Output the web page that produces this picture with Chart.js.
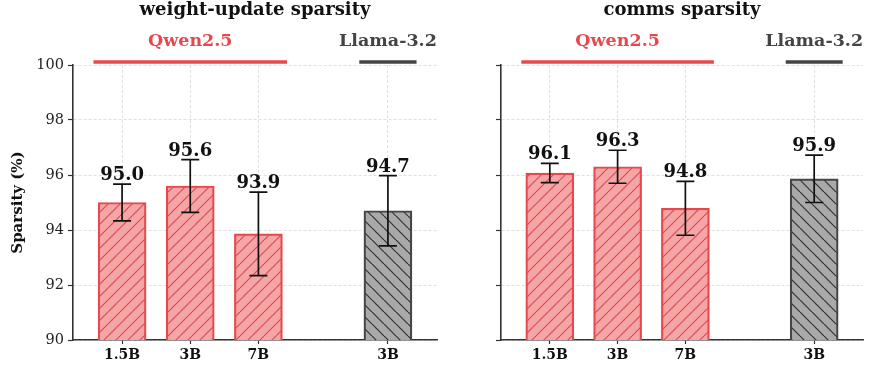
<!DOCTYPE html>
<html>
<head>
<meta charset="utf-8">
<script src="https://cdn.jsdelivr.net/npm/chart.js@4.4.1/dist/chart.umd.min.js"></script>
<style>
  html, body { margin: 0; padding: 0; background: #fff; }
  #wrap { position: relative; width: 869px; height: 370px; }
  .panel { position: absolute; top: 0; height: 370px; }
</style>
</head>
<body>
<div id="wrap">
  <div class="panel" style="left:0;width:440px"><canvas id="weightChart" width="440" height="370"></canvas></div>
  <div class="panel" style="left:440px;width:429px"><canvas id="commsChart" width="429" height="370"></canvas></div>
</div>
<script>
// chart data
const categories = ["1.5B", "3B", "7B", "3B"];
const positions = [0, 1, 2, 3.9];
const families = ["Qwen2.5", "Qwen2.5", "Qwen2.5", "Llama-3.2"];
const weightMeans = [95.0, 95.6, 93.86, 94.7];
const weightErrs = [0.67, 0.96, 1.52, 1.28];
const commsMeans = [96.07, 96.3, 94.79, 95.86];
const commsErrs = [0.35, 0.6, 0.98, 0.86];
const yTicks = [90, 92, 94, 96, 98, 100];
const groupNames = ["Qwen2.5", "Llama-3.2"];
const groupSpans = [[0, 2], [3.9, 3.9]];

const FONT = "'DejaVu Serif', serif";
const RED = "#e8474c";
const RED_FILL = "#f4a6a7";
const GRAY = "#444444";
const GRAY_FILL = "#a9a9a9";

// build a hatch pattern ("/" or "\") on a small tile
function makeHatch(bg, fg, forward) {
  const s = 12;
  const c = document.createElement("canvas");
  c.width = s; c.height = s;
  const g = c.getContext("2d");
  g.fillStyle = bg;
  g.fillRect(0, 0, s, s);
  g.strokeStyle = fg;
  g.lineWidth = 1.2;
  for (const x0 of [-s, 0, s]) {
    g.beginPath();
    if (forward) { g.moveTo(x0, s); g.lineTo(x0 + s, 0); }
    else { g.moveTo(x0, 0); g.lineTo(x0 + s, s); }
    g.stroke();
  }
  return g.createPattern(c, "repeat");
}

const redHatch = makeHatch(RED_FILL, RED, true);
const grayHatch = makeHatch(GRAY_FILL, "#333333", false);

const familyColor = (f) => (f === "Qwen2.5" ? RED : GRAY);

// error bars, value labels, titles and group markers
const decorPlugin = {
  id: "decor",
  afterDatasetsDraw(chart, args, opts) {
    const ctx = chart.ctx;
    const x = chart.scales.x, y = chart.scales.y;
    const area = chart.chartArea;
    ctx.save();
    opts.means.forEach((m, i) => {
      const px = x.getPixelForValue(positions[i]);
      const top = y.getPixelForValue(m + opts.errs[i]);
      const bot = y.getPixelForValue(m - opts.errs[i]);
      ctx.strokeStyle = "#111";
      ctx.lineWidth = 1.7;
      ctx.beginPath();
      ctx.moveTo(px, top); ctx.lineTo(px, bot);
      ctx.moveTo(px - 9, top); ctx.lineTo(px + 9, top);
      ctx.moveTo(px - 9, bot); ctx.lineTo(px + 9, bot);
      ctx.stroke();
      ctx.fillStyle = "#111";
      ctx.font = "bold 18px " + FONT;
      ctx.textAlign = "center";
      ctx.textBaseline = "alphabetic";
      ctx.fillText(m.toFixed(1), px, top - 4);
    });

    // panel title
    ctx.fillStyle = "#111";
    ctx.font = "bold 18px " + FONT;
    ctx.textAlign = "center";
    ctx.fillText(opts.title, (area.left + area.right) / 2, 15);

    // model family markers
    groupNames.forEach((name, i) => {
      const col = familyColor(name);
      const x0 = x.getPixelForValue(groupSpans[i][0] - 0.42);
      const x1 = x.getPixelForValue(groupSpans[i][1] + 0.42);
      ctx.strokeStyle = col;
      ctx.lineWidth = 3.3;
      ctx.beginPath();
      ctx.moveTo(x0, 62); ctx.lineTo(x1, 62);
      ctx.stroke();
      ctx.fillStyle = col;
      ctx.font = "bold 17.5px " + FONT;
      ctx.fillText(name, (x0 + x1) / 2, 46);
    });
    ctx.restore();
  }
};

function makeChart(id, means, errs, title, yWidth, padRight, showY) {
  const ctx = document.getElementById(id).getContext("2d");
  return new Chart(ctx, {
    type: "bar",
    data: {
      datasets: [{
        data: positions.map((p, i) => ({ x: p, y: means[i] })),
        backgroundColor: families.map((f) => (f === "Qwen2.5" ? redHatch : grayHatch)),
        borderColor: families.map(familyColor),
        borderWidth: 2.2,
        borderSkipped: false,
        barThickness: 48
      }]
    },
    options: {
      responsive: false,
      animation: false,
      layout: { padding: { top: 65, right: padRight, left: 0, bottom: 0 } },
      plugins: {
        legend: { display: false },
        tooltip: { enabled: false },
        decor: { means: means, errs: errs, title: title }
      },
      scales: {
        x: {
          type: "linear",
          offset: false,
          min: -0.72,
          max: 4.62,
          afterBuildTicks: (scale) => { scale.ticks = positions.map((v) => ({ value: v })); },
          afterFit: (scale) => { scale.height = 30; },
          ticks: {
            autoSkip: false,
            maxRotation: 0,
            padding: 3,
            color: "#111",
            font: { family: FONT, size: 14, weight: "bold" },
            callback: (v, i) => categories[i]
          },
          grid: {
            offset: false,
            color: "#dcdcdc",
            lineWidth: 0.9,
            tickLength: 4,
            tickColor: "#333",
            tickWidth: 1.2,
            tickBorderDash: []
          },
          border: { color: "#333", width: 1.6, dash: [3, 2] }
        },
        y: {
          min: 90,
          max: 100,
          afterBuildTicks: (scale) => { scale.ticks = yTicks.map((v) => ({ value: v })); },
          afterFit: (scale) => { scale.width = yWidth; },
          ticks: {
            padding: 4,
            color: "#222",
            font: { family: FONT, size: 14.5 },
            callback: (v) => (showY ? String(v) : "")
          },
          grid: {
            color: "#dcdcdc",
            lineWidth: 0.9,
            tickLength: 5,
            tickColor: "#333",
            tickWidth: 1.2,
            tickBorderDash: []
          },
          border: { color: "#333", width: 1.6, dash: [3, 2] },
          title: {
            display: showY,
            text: "Sparsity (%)",
            color: "#111",
            font: { family: FONT, size: 15, weight: "bold" },
            padding: { top: 9, bottom: 0 }
          }
        }
      }
    },
    plugins: [decorPlugin]
  });
}

makeChart("weightChart", weightMeans, weightErrs, "weight-update sparsity", 73, 3, true);
makeChart("commsChart", commsMeans, commsErrs, "comms sparsity", 61, 6, false);
</script>
</body>
</html>
